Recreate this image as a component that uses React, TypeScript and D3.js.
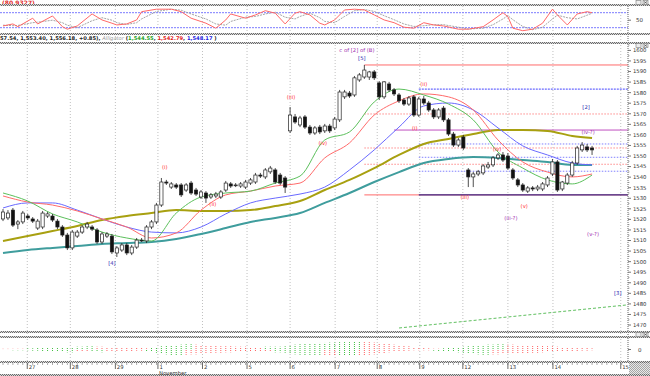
import React from "react";
import * as d3 from "d3";

// ---------- candle data (price) ----------
const opens = [1520.2,1520.7,1524.4,1517.8,1518.8,1521.6,1520.2,1515.9,1516.4,1521.6,1521.6,1519.2,1516.4,1512.6,1506.5,1512.1,1514.0,1516.4,1516.4,1515.0,1509.3,1512.1,1512.1,1504.1,1505.5,1507.9,1504.1,1506.9,1510.2,1509.8,1516.4,1518.8,1526.8,1537.7,1535.3,1536.3,1536.3,1533.9,1537.2,1533.9,1530.6,1532.5,1530.6,1531.1,1530.6,1533.9,1536.8,1536.3,1535.8,1535.3,1537.2,1537.7,1541.0,1540.1,1542.5,1543.4,1541.0,1539.6,1561.9,1568.5,1564.7,1568.5,1563.7,1560.9,1563.7,1561.9,1564.2,1563.3,1567.1,1578.0,1579.8,1578.9,1586.0,1587.4,1587.4,1589.8,1584.6,1578.0,1584.1,1581.3,1578.9,1576.5,1574.6,1578.0,1569.4,1577.0,1575.1,1571.8,1568.5,1572.7,1567.1,1560.4,1555.2,1559.0,1543.4,1540.1,1541.5,1542.0,1544.8,1545.8,1549.1,1550.5,1550.0,1543.4,1538.7,1536.3,1533.4,1534.9,1534.4,1534.4,1536.3,1541.5,1547.2,1534.4,1537.2,1541.0,1546.7,1552.9,1554.3,1553.8];
const highs = [1524.9,1524.4,1525.4,1519.7,1524.0,1522.6,1521.1,1520.2,1524.0,1523.5,1522.6,1520.2,1517.3,1513.6,1515.0,1515.0,1517.3,1518.8,1517.3,1515.9,1514.0,1514.0,1513.1,1507.4,1508.8,1508.8,1507.9,1511.2,1511.2,1517.3,1519.7,1527.8,1539.6,1538.7,1537.7,1537.2,1537.2,1537.2,1538.2,1534.9,1533.9,1533.4,1532.5,1533.0,1533.9,1538.2,1537.7,1537.2,1537.7,1538.7,1539.6,1542.0,1542.0,1544.3,1545.3,1544.3,1542.0,1540.5,1573.2,1569.9,1569.0,1569.4,1564.7,1564.2,1564.7,1565.2,1565.2,1568.5,1581.3,1581.3,1580.8,1587.9,1589.3,1593.1,1590.3,1590.7,1585.5,1585.5,1585.1,1582.2,1579.8,1577.5,1578.4,1578.9,1578.0,1578.4,1576.1,1572.7,1572.7,1573.7,1568.0,1561.4,1558.5,1560.0,1544.3,1542.5,1543.4,1546.2,1547.2,1550.0,1551.4,1551.9,1551.4,1544.3,1539.6,1537.2,1535.8,1535.8,1536.3,1537.7,1540.5,1548.6,1548.1,1538.2,1542.0,1547.7,1554.8,1556.6,1555.7,1554.8];
const lows = [1519.2,1519.7,1516.4,1515.4,1517.8,1519.7,1518.3,1515.0,1515.4,1520.7,1518.8,1515.4,1511.7,1505.5,1505.5,1511.2,1513.1,1515.4,1514.5,1508.4,1508.4,1511.2,1503.6,1502.2,1504.6,1503.1,1503.1,1506.0,1509.3,1508.8,1515.4,1517.8,1525.9,1536.3,1534.4,1534.4,1530.6,1533.0,1531.6,1531.1,1529.7,1527.8,1529.7,1530.1,1529.7,1533.0,1534.9,1535.3,1534.9,1534.4,1536.3,1536.8,1539.6,1539.1,1541.5,1536.8,1536.3,1532.5,1560.9,1565.2,1563.7,1562.8,1560.0,1560.0,1560.4,1560.9,1560.9,1562.3,1566.1,1577.0,1577.5,1578.0,1585.1,1586.5,1586.0,1586.0,1576.5,1577.0,1580.3,1578.4,1575.1,1573.7,1573.7,1568.5,1568.5,1574.2,1570.9,1567.5,1567.5,1566.1,1559.5,1554.3,1554.3,1552.9,1535.3,1535.3,1540.5,1541.0,1543.9,1544.8,1548.1,1547.2,1543.4,1538.7,1535.3,1533.0,1532.5,1533.4,1533.4,1533.4,1535.3,1540.5,1533.0,1533.4,1536.3,1540.1,1545.8,1551.9,1551.9,1550.5];
const closes = [1523.5,1523.0,1517.3,1518.8,1523.0,1520.7,1519.2,1519.2,1523.0,1522.6,1519.7,1516.4,1512.6,1506.5,1514.0,1514.0,1516.4,1517.8,1515.4,1509.3,1513.1,1513.1,1504.6,1506.5,1507.9,1504.1,1506.9,1510.2,1509.8,1516.4,1518.8,1526.8,1537.7,1537.2,1536.8,1535.3,1531.6,1536.3,1532.5,1532.0,1533.0,1530.1,1531.6,1532.0,1533.0,1537.2,1535.8,1536.3,1536.8,1537.7,1538.7,1541.0,1540.5,1543.4,1544.3,1537.7,1537.2,1535.3,1569.4,1566.1,1568.0,1563.7,1560.9,1563.3,1561.4,1564.2,1561.9,1567.5,1580.3,1580.3,1578.4,1587.0,1588.4,1590.7,1589.8,1587.0,1578.0,1585.1,1581.3,1579.4,1576.1,1574.6,1577.5,1569.4,1577.0,1575.1,1571.8,1568.5,1571.8,1567.1,1560.4,1555.2,1557.6,1553.8,1540.1,1541.5,1542.5,1545.3,1545.8,1549.1,1550.5,1548.1,1544.3,1539.6,1536.3,1533.9,1534.9,1534.4,1535.3,1536.8,1539.6,1547.2,1533.9,1537.7,1541.0,1546.7,1553.8,1555.2,1552.9,1552.9];

// ---------- moving averages, read at these bar indices ----------
const maIdx = [0,5,10,15,20,25,30,35,40,45,50,55,60,65,70,75,80,85,90,95,100,105,110,115,119];
const lipsGreen = [1532.5,1528.7,1522.6,1518.8,1514.0,1511.2,1509.8,1523.0,1530.6,1532.5,1533.4,1537.2,1540.5,1557.6,1561.4,1575.6,1581.7,1578.9,1574.6,1567.1,1551.9,1544.3,1538.7,1536.8,1541.0];
const teethRed = [1531.1,1528.2,1526.8,1524.0,1520.2,1516.4,1511.2,1513.6,1524.4,1531.6,1533.4,1535.8,1537.2,1549.1,1556.2,1569.4,1576.1,1579.4,1578.0,1571.8,1557.6,1547.2,1542.4,1540.1,1541.5];
const jawBlue = [1525.4,1527.8,1527.8,1524.4,1520.2,1516.4,1514.0,1513.6,1516.4,1522.6,1527.8,1530.1,1532.0,1535.3,1543.4,1552.9,1563.7,1573.7,1575.1,1571.8,1563.3,1554.8,1550.5,1546.7,1545.8];
const maOlive = [1509.8,1512.1,1514.5,1516.9,1519.7,1521.6,1523.0,1524.4,1524.0,1524.0,1524.4,1526.3,1528.7,1533.9,1538.7,1544.3,1550.5,1555.7,1558.1,1560.4,1562.3,1562.3,1561.9,1559.5,1558.5];
const maTeal = [1504.1,1505.5,1506.5,1507.4,1508.4,1508.8,1509.3,1510.7,1513.1,1515.9,1518.8,1520.7,1523.0,1527.8,1532.5,1537.7,1542.4,1546.7,1548.6,1549.5,1549.1,1548.1,1547.2,1545.8,1545.8];

// ---------- stochastic ----------
const stochIdx = [0,2,3,6,7,10,12,13,15,18,20,22,23,25,27,28,31,34,36,38,41,43,45,46,49,51,53,55,57,59,60,62,64,65,67,69,71,73,75,77,79,81,83,85,87,89,92,94,97,99,101,102,103,105,107,109,111,112,114,116,118,119];
const stochK = [27,35,24,58,35,67,24,14,27,75,51,38,31,35,51,84,94,94,84,58,38,18,51,75,58,71,88,78,35,78,84,71,38,31,51,91,94,91,71,51,40,22,18,40,31,27,14,14,24,51,80,64,18,8,14,38,94,71,31,75,84,80];
const stochD = [30,28,29,40,42,50,40,30,20,48,60,50,40,33,40,55,85,94,90,75,55,35,30,45,62,65,75,82,62,55,65,78,60,45,40,65,88,93,85,68,52,35,25,28,32,32,22,15,18,32,55,68,52,25,12,22,55,70,60,55,70,78];
const stochLevels = [80, 20];

// ---------- gator oscillator ----------
const gatorUpper = [1,1,1,1,1, 1.5,1.5,2,2,2,2,2.5,2.5,3, 3,3.5,3.5,4,4,3.5,3.5,3,3, 3,2.5,2.5,2,2,2,1.5,2, 3,4,4.5,5,5.5,6,6.5,6.5,6,5.5, 5,4.5,4.5,4,4,4,3.5,3.5,3.5,3,3,3,3.5,3.5,3.5,3.5,4, 5,6,6.5,7,7.5,7.5,8,8,8.5,8.5,9,9,9,9.5,9.5,9,9, 8.5,8,7.5,7,6,5,4.5,4,3,2.5,2, 1.5,1,1,1.5,2,2.5,3,3.5, 4,4.5,5,5.5,6,6,6.5,6.5,6,6, 5.5,5.5,5,5,4.5,4.5,4,4, 3.5,3,3,2.5,2.5,2,2,1.5];
const gatorLower = [0.5,0.5,1,1,1, 1,1.5,1.5,2,2,2.5,3,3,3.5, 3.5,3,3,2.5,3,3,3.5,3,3, 2.5,2.5,2,2,1.5,1.5,2,3, 4,5,6,7,7,7,6.5,6,6,5.5, 5,4.5,4,4,3.5,3.5,3,3,3,3,3,3,3,3,3.5,3.5,4, 5,6,6.5,7,7.5,7.5,7.5,7,7,7,7.5,7.5,7.5,7.5,7,7,6.5, 6,5,4.5,3.5,3,2.5,2,1.5,1,1,1, 1,1.5,2,2.5,3,3,3.5,4, 5,5.5,6,6.5,6.5,6,6,5.5,5,5, 5,4.5,4.5,4,4,3.5,3,3, 3,2.5,2.5,2,2,1.5,1.5,1];

// ---------- time axis ----------
const dayIdx = [4.9,13.6,22.7,31.3,40.3,49.3,58.0,67.1,75.6,84.2,92.9,102.0,111.1,124.8];
const dayLabels = ["27","28","29","1","2","5","6","7","8","9","12","13","14","15"];
const monthLabel = "November";
const monthAt = 3;

// ---------- price levels ----------
const levelPrice = [1593.1,1569.9,1553.8,1546.1,1531.6,1581.7,1555.7,1549.4,1542.8,1531.6,1562.3];
const levelFrom = [73,73,73,73,73,84,84,84,84,84,79];
const levelKind = ["red","redDot","redDot","redDot","red","blueDash","blueDot","blueDot","blueDot","navy","magenta"];

// ---------- trend line ----------
const trendIdx = [80, 126];
const trendVal = [1468.6, 1479.5];

// ---------- wave labels ----------
const waveText = ["[4]","(i)","(ii)","(iii)","(iv)","[5]","c of [2] of (B)","(i)","(ii)","(iii)","(iv)","(v)","(iii-?)","[2]","(iv-?)","(v-?)","[3]"];
const waveIdx = [22,32.7,42.4,58.2,64.6,72.5,71.5,83.2,85,93.3,99.8,105.3,102.6,117.8,118.2,119.2,124.2];
const wavePrice = [1499.3,1544.8,1527.3,1578.0,1556.2,1596.4,1600.2,1563.3,1584.1,1530.6,1553.3,1526.3,1520.7,1573.2,1561.4,1513.1,1485.0];
const waveKind = ["blue","red","red","red","red","blue","magenta","red","red","red","red","red","magenta","blue","magenta","magenta","blue"];

const priceTicks = d3.range(1470, 1601, 5);

const levelStyle: Record<string, any> = {
  red: { stroke: "#ff6a6a", sw: 1, dash: null },
  redDot: { stroke: "#ff8a8a", sw: 1, dash: "1.5,1.5" },
  blueDash: { stroke: "#6a6aff", sw: 1.3, dash: "2,1" },
  blueDot: { stroke: "#8080ff", sw: 1, dash: "1.5,1.5" },
  navy: { stroke: "#3a2a8a", sw: 1.4, dash: null },
  magenta: { stroke: "#c050c0", sw: 1, dash: null },
};
const waveColor: Record<string, string> = { red: "#ff3030", blue: "#2a2ab0", magenta: "#a030b0" };

export default function App() {
  const W = 650, H = 376;
  const axisX = 628;
  const x = d3.scaleLinear().domain([0, 126]).range([3, 3 + 126 * 4.95]);
  const y = d3.scaleLinear().domain([1466.7, 1603.5]).range([332, 43]);
  const ys = d3.scaleLinear().domain([0, 100]).range([32.7, 7.7]);
  const yg = d3.scaleLinear().domain([-14, 14]).range([361, 338]);

  const mkLine = (idx: number[], vals: number[], sc: any, curve: any = d3.curveMonotoneX) =>
    d3.line<number>().x((_, i) => x(idx[i])).y((d) => sc(d)).curve(curve)(vals) || "";

  const bands = [4, 33, 42, 331, 336, 361, 374];
  const font = "DejaVu Sans, Verdana, sans-serif";

  const gColor = (arr: number[]) => {
    const out: string[] = [];
    let last = "#ff7070";
    arr.forEach((v, i) => {
      if (i > 0) {
        if (v > arr[i - 1]) last = "#40c040";
        else if (v < arr[i - 1]) last = "#ff6060";
      }
      out.push(last);
    });
    return out;
  };
  const upCol = gColor(gatorUpper);
  const loCol = gColor(gatorLower);

  return (
    <svg width={W} height={H} style={{ position: "absolute", left: 0, top: 0, background: "#fff" }} fontFamily={font}>
      <defs>
        <pattern id="chk" width="2" height="2" patternUnits="userSpaceOnUse">
          <rect width="2" height="2" fill="#d8d8d8" />
          <rect width="1" height="1" fill="#6a6a6a" />
          <rect x="1" y="1" width="1" height="1" fill="#6a6a6a" />
        </pattern>
        <clipPath id="cMain"><rect x="0" y="44" width={axisX} height="287" /></clipPath>
        <clipPath id="cOsc"><rect x="0" y="6" width={axisX} height="27" /></clipPath>
        <clipPath id="cGat"><rect x="0" y="338" width={axisX} height="23" /></clipPath>
      </defs>
      <rect x="0" y="0" width={W} height={H} fill="#fff" />

      {dayIdx.map((d, i) => (
        <line key={"g" + i} x1={x(d)} x2={x(d)} y1={6} y2={361} stroke="#b0b0b0" strokeWidth={0.8} strokeDasharray="1,2" />
      ))}

      {/* oscillator panel */}
      <g clipPath="url(#cOsc)">
        {stochLevels.map((v, i) => (
          <line key={"sl" + i} x1={0} x2={axisX} y1={ys(v)} y2={ys(v)} stroke="#7a7aff" strokeWidth={1} strokeDasharray="2,1" />
        ))}
        <path d={mkLine(stochIdx, stochD, ys, d3.curveLinear)} fill="none" stroke="#9a9a9a" strokeWidth={0.9} strokeDasharray="2,1" />
        <path d={mkLine(stochIdx, stochK, ys, d3.curveLinear)} fill="none" stroke="#ff6868" strokeWidth={1} />
      </g>
      <text x={2} y={5} fontSize={6} fontWeight="bold" fill="#e03030">(80.9327)</text>
      <text x={636} y={22} fontSize={5.5} fill="#333">50</text>
      <line x1={axisX} x2={axisX + 3} y1={ys(50)} y2={ys(50)} stroke="#555" strokeWidth={0.8} />

      <text x={0} y={40} fontSize={5.2} fontWeight="bold" fill="#222">
        57.54, 1,553.40, 1,556.18, +0.85), <tspan fill="#999" fontWeight="normal" fontStyle="italic">Alligator</tspan> (<tspan fill="#22a022">1,544.55</tspan>, <tspan fill="#e02020">1,542.79</tspan>, <tspan fill="#2222e0">1,548.17</tspan> )
      </text>

      {/* main panel */}
      <g clipPath="url(#cMain)">
        <path d={mkLine(trendIdx, trendVal, y, d3.curveLinear)} stroke="#60c060" strokeWidth={1} strokeDasharray="3,2" fill="none" />
        {levelPrice.map((p, i) => {
          const s = levelStyle[levelKind[i]];
          return (
            <line key={"lv" + i} x1={x(levelFrom[i])} x2={axisX} y1={y(p)} y2={y(p)} stroke={s.stroke} strokeWidth={s.sw} strokeDasharray={s.dash || undefined} />
          );
        })}
        <path d={mkLine(maIdx, maTeal, y)} fill="none" stroke="#3f9d9d" strokeWidth={2} />
        <path d={mkLine(maIdx, maOlive, y)} fill="none" stroke="#a8a010" strokeWidth={2} />
        <path d={mkLine(maIdx, jawBlue, y)} fill="none" stroke="#6a6aff" strokeWidth={1} />
        <path d={mkLine(maIdx, teethRed, y)} fill="none" stroke="#ff6a6a" strokeWidth={1} />
        <path d={mkLine(maIdx, lipsGreen, y)} fill="none" stroke="#5cc05c" strokeWidth={1} />
        {opens.map((o, i) => {
          const c = closes[i];
          const cx = x(i);
          const up = c >= o;
          const top = y(Math.max(o, c));
          const bot = y(Math.min(o, c));
          return (
            <g key={"c" + i}>
              <line x1={cx} x2={cx} y1={y(highs[i])} y2={y(lows[i])} stroke="#222" strokeWidth={0.8} />
              <rect x={cx - 1.6} y={top} width={3.2} height={Math.max(0.8, bot - top)} fill={up ? "#fff" : "#111"} stroke="#222" strokeWidth={0.7} />
            </g>
          );
        })}
        {waveText.map((t, i) => (
          <text key={"w" + i} x={x(waveIdx[i])} y={y(wavePrice[i])} dy="0.35em" textAnchor="middle" fontSize={5.3} fill={waveColor[waveKind[i]]}>{t}</text>
        ))}
      </g>

      {/* gator panel */}
      <g clipPath="url(#cGat)">
        {gatorUpper.map((v, i) => (
          <line key={"gu" + i} x1={x(i)} x2={x(i)} y1={yg(0) - 0.5} y2={yg(v)} stroke={upCol[i]} strokeWidth={1} strokeDasharray="1,1" />
        ))}
        {gatorLower.map((v, i) => (
          <line key={"gl" + i} x1={x(i)} x2={x(i)} y1={yg(0) + 0.5} y2={yg(-v)} stroke={loCol[i]} strokeWidth={1} strokeDasharray="1,1" />
        ))}
      </g>
      <text x={638} y={yg(0) + 2} fontSize={5.5} fill="#333">0</text>
      <line x1={axisX} x2={axisX + 3} y1={yg(0)} y2={yg(0)} stroke="#555" strokeWidth={0.8} />

      {/* right price axis */}
      {priceTicks.map((p, i) => (
        <g key={"pt" + i}>
          <line x1={axisX} x2={axisX + 3} y1={y(p)} y2={y(p)} stroke="#555" strokeWidth={0.8} />
          <line x1={axisX} x2={axisX + 1.5} y1={y(p + 2.5)} y2={y(p + 2.5)} stroke="#777" strokeWidth={0.6} />
          <text x={633} y={y(p)} dy="0.35em" fontSize={5.3} fill="#333">{p}</text>
        </g>
      ))}
      <line x1={axisX} x2={axisX} y1={4} y2={362} stroke="#666" strokeWidth={1} strokeDasharray="1,1" />

      {bands.map((b, i) => (
        <rect key={"b" + i} x={0} y={b} width={W} height={2} fill="url(#chk)" />
      ))}

      {[0, 43, 332].map((yy, i) => (
        <g key={"ic" + i}>
          <rect x={636} y={yy + 0.5} width={5} height={4} fill="#eee" stroke="#777" strokeWidth={0.6} />
          <rect x={643} y={yy + 0.5} width={5} height={4} fill="#eee" stroke="#777" strokeWidth={0.6} />
          <path d={`M643.8,${yy + 1.3} L647.2,${yy + 3.7} M647.2,${yy + 1.3} L643.8,${yy + 3.7}`} stroke="#444" strokeWidth={0.6} />
        </g>
      ))}

      {/* time axis */}
      {d3.range(0, 126).map((i) => (
        <line key={"mt" + i} x1={x(i)} x2={x(i)} y1={363} y2={365} stroke="#777" strokeWidth={0.6} />
      ))}
      {dayIdx.map((d, i) => (
        <g key={"dl" + i}>
          <line x1={x(d)} x2={x(d)} y1={363} y2={369} stroke="#444" strokeWidth={0.8} />
          <text x={x(d) + 1.5} y={369} fontSize={5.3} fill="#333">{dayLabels[i]}</text>
        </g>
      ))}
      <text x={x(dayIdx[monthAt]) + 1} y={375} fontSize={5.3} fill="#333">{monthLabel}</text>
      <rect x={629} y={363} width={21} height={13} fill="url(#chk)" opacity={0.6} />
    </svg>
  );
}
